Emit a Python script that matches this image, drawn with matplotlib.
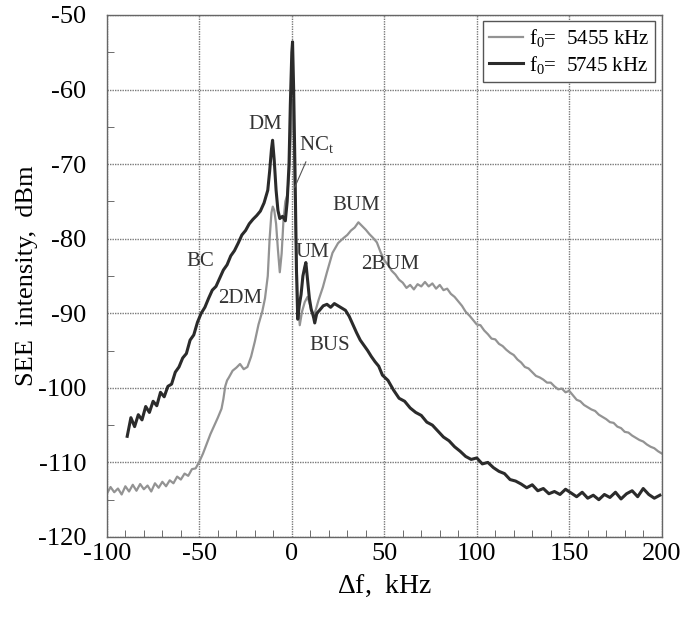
import matplotlib
matplotlib.use("Agg")
import matplotlib.pyplot as plt
from matplotlib.ticker import MultipleLocator

plt.rcParams["font.family"] = ["Liberation Serif", "DejaVu Serif"]
plt.rcParams["mathtext.fontset"] = "custom"
plt.rcParams["mathtext.rm"] = "Liberation Serif"
plt.rcParams["mathtext.it"] = "Liberation Serif"
plt.rcParams["axes.unicode_minus"] = False

# f0 = 5745 kHz (dark trace)
df_5745 = [
    -89, -87, -85, -83, -81, -79, -77, -75, -73, -71, -69, -67, -65, -63, -61,
    -59, -57, -55, -53, -51, -49, -47, -45, -43, -41, -39, -37, -35, -33, -31,
    -29, -27, -25, -23, -21, -19, -17, -15, -13, -12, -11, -10.4, -9.5, -8.5,
    -7.5, -6.5, -5, -3.5, -2.5, -1.5, -0.8, 0, 0.4, 1, 1.8, 2.5, 3.2, 4, 5, 6,
    7, 7.6, 8.5, 9.5, 10.5, 11.5, 12.4, 13.5, 15, 17, 19, 21, 23, 25, 27, 29,
    31, 33, 35, 37, 39, 41, 43, 45, 47, 49, 52, 55, 58, 61, 64, 67, 70, 73, 76,
    79, 82, 85, 88, 91, 94, 97, 100, 103, 106, 109, 112, 115, 118, 121, 124,
    127, 130, 133, 136, 139, 142, 145, 148, 151, 154, 157, 160, 163, 166, 169,
    172, 175, 178, 181, 184, 187, 190, 193, 196, 199,
]
see_5745 = [
    -106.5, -104.0, -105.2, -103.6, -104.3, -102.5, -103.3, -101.8, -102.4,
    -100.6, -101.2, -99.8, -99.5, -97.9, -97.2, -96.0, -95.4, -93.6, -92.9,
    -91.2, -90.0, -89.2, -88.0, -86.9, -86.4, -85.3, -84.2, -83.5, -82.3,
    -81.6, -80.6, -79.5, -78.9, -78.0, -77.4, -76.9, -76.3, -75.2, -73.5,
    -71.0, -68.0, -66.8, -69.5, -73.5, -76.2, -77.3, -77.0, -77.6, -75.0,
    -70.0, -62.0, -55.0, -53.6, -60.0, -72.0, -84.0, -90.8, -89.0, -87.5,
    -85.0, -83.8, -83.2, -85.5, -88.0, -89.5, -90.2, -91.3, -90.0, -89.6,
    -89.0, -88.8, -89.2, -88.7, -89.0, -89.3, -89.6, -90.4, -91.5, -92.6,
    -93.6, -94.3, -95.0, -95.8, -96.5, -97.1, -98.3, -99.0, -100.3, -101.4,
    -101.8, -102.7, -103.3, -103.7, -104.6, -105.0, -105.8, -106.6, -107.1,
    -107.9, -108.5, -109.2, -109.6, -109.4, -110.2, -110.0, -110.7, -111.2,
    -111.5, -112.3, -112.5, -112.9, -113.4, -113.0, -113.8, -113.5, -114.2,
    -113.9, -114.3, -113.6, -114.1, -114.6, -114.0, -114.8, -114.4, -115.0,
    -114.3, -114.7, -114.0, -114.9, -114.2, -113.8, -114.6, -113.5, -114.3,
    -114.8, -114.4,
]

# f0 = 5455 kHz (grey trace)
df_5455 = [
    -100, -98, -96, -94, -92, -90, -88, -86, -84, -82, -80, -78, -76, -74, -72,
    -70, -68, -66, -64, -62, -60, -58, -56, -54, -52, -50, -48, -46, -44, -42,
    -40, -38, -37, -36, -35, -34, -32, -30, -28, -26, -24, -22, -20, -18, -16,
    -14.5, -13, -12, -11, -10.3, -9.5, -8.5, -7.5, -6.5, -5.5, -4.5, -3.5,
    -2.5, -1.5, -0.5, 0.2, 1, 2, 3, 4.3, 5.5, 7, 8.5, 10, 11.5, 13, 14.5, 16.8,
    19, 22, 25, 28, 30, 32, 34, 36, 38, 40, 42, 44, 46, 48, 50, 52, 54, 56, 58,
    60, 62, 64, 66, 68, 70, 72, 74, 76, 78, 80, 82, 84, 86, 88, 90, 92, 94, 96,
    98, 100, 102, 104, 106, 108, 110, 112, 114, 116, 118, 120, 122, 124, 126,
    128, 130, 132, 134, 136, 138, 140, 142, 144, 146, 148, 150, 152, 154, 156,
    158, 160, 162, 164, 166, 168, 170, 172, 174, 176, 178, 180, 182, 184, 186,
    188, 190, 192, 194, 196, 198, 200,
]
see_5455 = [
    -114.2, -113.3, -114.0, -113.5, -114.3, -113.2, -113.9, -113.0, -113.8,
    -112.9, -113.6, -113.1, -113.9, -112.8, -113.4, -112.6, -113.2, -112.4,
    -112.8, -111.9, -112.3, -111.5, -111.8, -110.9, -110.8, -109.9, -108.8,
    -107.5, -106.2, -105.1, -104.0, -102.8, -101.5, -99.8, -99.0, -98.6,
    -97.7, -97.3, -96.8, -97.5, -97.2, -95.8, -93.8, -91.5, -89.8, -88.0,
    -85.0, -80.0, -76.5, -75.7, -76.2, -78.0, -81.5, -84.5, -82.0, -77.5,
    -75.0, -74.2, -71.5, -66.0, -61.5, -66.0, -78.0, -87.0, -91.6, -89.8,
    -88.5, -87.8, -89.0, -90.5, -89.5, -88.2, -86.5, -84.5, -81.9, -80.6,
    -79.9, -79.5, -78.9, -78.5, -77.8, -78.3, -78.8, -79.4, -79.9, -80.5,
    -81.8, -82.9, -83.5, -84.3, -84.8, -85.5, -85.9, -86.6, -86.2, -86.8,
    -86.1, -86.4, -85.8, -86.4, -86.0, -86.7, -86.2, -86.9, -86.7, -87.4,
    -87.8, -88.4, -89.0, -89.8, -90.3, -90.9, -91.5, -91.6, -92.3, -92.8,
    -93.4, -93.5, -94.1, -94.4, -94.9, -95.3, -95.6, -96.2, -96.6, -97.2,
    -97.4, -97.9, -98.4, -98.6, -98.9, -99.3, -99.3, -99.8, -100.2, -100.1,
    -100.6, -100.4, -101.0, -101.6, -101.8, -102.3, -102.6, -102.9, -103.1,
    -103.6, -103.9, -104.2, -104.6, -104.7, -105.2, -105.4, -105.9, -106.0,
    -106.4, -106.7, -107.0, -107.2, -107.6, -107.9, -108.1, -108.5, -108.8,
]

labels = ["BC", "2DM", "DM", "UM", "BUS", "BUM", "2BUM"]
label_x = [-49.7, -28.0, -14.6, 11.4, 20.5, 35.0, 53.0]
label_y = [-83.1, -88.0, -64.7, -81.8, -94.3, -75.5, -83.5]

fig = plt.figure(figsize=(6.85, 6.19), dpi=100)
ax = fig.add_axes([0.156, 0.1325, 0.81, 0.8433])

ax.plot(df_5455, see_5455, color="#939393", lw=1.6, label=r"f$_0$=  5455 kHz")
ax.plot(df_5745, see_5745, color="#2b2b2b", lw=2.2, label=r"f$_0$=  5745 kHz")

for txt, x, y in zip(labels, label_x, label_y):
    ax.text(x, y, txt, fontsize=15, ha="center", va="center", color="#333333")

ax.text(13.5, -67.4, r"NC$_\mathrm{t}$", fontsize=15, ha="center", va="center",
        color="#333333")
ax.plot([7.6, 1.6], [-69.7, -73.1], color="#555555", lw=0.8)

ax.set_xlim(-100, 200)
ax.set_ylim(-120, -50)
ax.xaxis.set_major_locator(MultipleLocator(50))
ax.xaxis.set_minor_locator(MultipleLocator(10))
ax.yaxis.set_major_locator(MultipleLocator(10))
ax.yaxis.set_minor_locator(MultipleLocator(5))
ax.tick_params(which="both", direction="in", labelsize=19, color="#555555")
ax.tick_params(which="major", length=0)
ax.tick_params(axis="y", which="major", pad=15)
ax.tick_params(axis="x", which="major", pad=4)
ax.tick_params(which="minor", length=5)
ax.grid(True, which="major", color="#7a7a7a", lw=1.0, linestyle=(0, (1, 0.8)))
for s in ax.spines.values():
    s.set_color("#666666")
    s.set_linewidth(1.0)

ax.set_xlabel(r"$\Delta$f,  kHz", fontsize=20, labelpad=6)
ax.set_ylabel("SEE  intensity,  dBm", fontsize=19)
ax.yaxis.set_label_coords(-0.125, 0.5)

leg = ax.legend(loc="upper right", fontsize=15, handlelength=1.6,
                handletextpad=0.3, borderaxespad=0.3, borderpad=0.3,
                labelspacing=0.2, fancybox=False, framealpha=1)
leg.get_frame().set_edgecolor("#555555")
leg.get_frame().set_linewidth(1.0)

fig.savefig("out.png", dpi=100)
